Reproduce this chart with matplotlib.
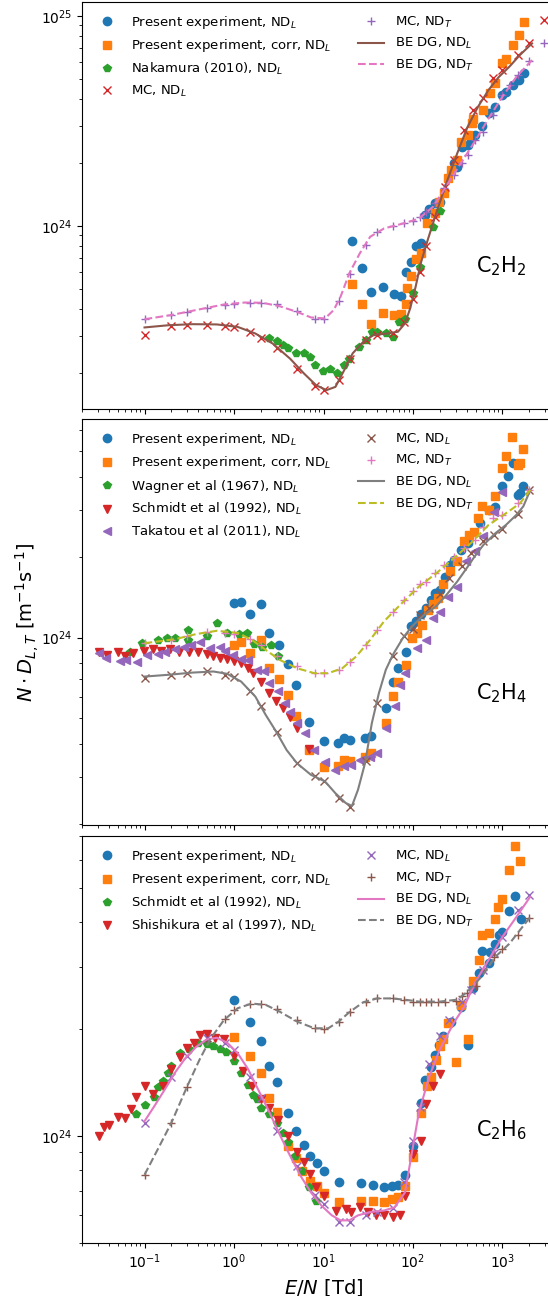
import numpy as np
import matplotlib
matplotlib.use("Agg")
import matplotlib.pyplot as plt
from matplotlib.ticker import NullFormatter

# ---------------- data (E/N in Td, N*D in units of 1e24 m^-1 s^-1) ----------------
# C2H2
c2h2_exp_E = [20.8, 26.8, 34.1, 46.7, 61.1, 74.4, 82.9, 94.8, 108, 124, 137, 152, 174, 203, 285, 312, 357, 408, 446, 488, 595, 699, 821, 1000, 1094, 1309, 1538, 1758]
c2h2_exp_ND = [0.845, 0.631, 0.483, 0.512, 0.475, 0.462, 0.600, 0.671, 0.800, 0.830, 1.12, 1.20, 1.28, 1.30, 1.98, 1.91, 2.38, 2.42, 2.60, 2.70, 2.98, 3.43, 3.69, 4.19, 4.35, 4.67, 4.94, 5.31]
c2h2_corr_E = [20.8, 26.8, 34.1, 46.7, 61.1, 74.4, 82.9, 85.1, 94.8, 108, 124, 142, 174, 196, 222, 249, 265, 312, 347, 408, 455, 471, 600, 731, 821, 1000, 1094, 1309, 1538, 1758]
c2h2_corr_ND = [0.531, 0.422, 0.340, 0.383, 0.374, 0.379, 0.422, 0.503, 0.576, 0.698, 0.738, 1.03, 1.15, 1.30, 1.43, 1.68, 1.84, 2.05, 2.51, 2.70, 3.07, 3.24, 3.55, 4.27, 4.76, 5.93, 6.19, 7.25, 8.09, 9.36]
c2h2_nak_E = [2.47, 3.04, 3.54, 4.05, 4.97, 6.05, 7.05, 8.07, 9.91, 11.9, 14.2, 17.0, 19.4, 24.9, 29.6, 34.7, 39.7, 49.7, 60.5, 69.9, 81.4, 99.1, 119, 167, 203]
c2h2_nak_ND = [0.291, 0.283, 0.270, 0.261, 0.247, 0.247, 0.238, 0.217, 0.204, 0.207, 0.200, 0.217, 0.231, 0.265, 0.285, 0.313, 0.311, 0.307, 0.296, 0.349, 0.358, 0.476, 0.638, 0.989, 1.17]
c2h2_mcL_E = [0.1, 0.2, 0.3, 0.5, 0.8, 1, 1.5, 2, 3, 5, 8, 10, 15, 20, 30, 40, 60, 80, 100, 120, 140, 175, 230, 285, 370, 470, 600, 780, 1000, 1500, 2000, 2900]
c2h2_mcL_ND = [0.302, 0.333, 0.336, 0.336, 0.333, 0.330, 0.313, 0.291, 0.261, 0.209, 0.172, 0.165, 0.184, 0.231, 0.285, 0.302, 0.307, 0.349, 0.446, 0.604, 0.800, 1.10, 1.53, 2.05, 2.86, 3.55, 4.04, 5.03, 5.51, 6.50, 7.44, 9.53]
c2h2_mcT_E = [0.1, 0.2, 0.3, 0.5, 0.8, 1, 1.5, 2, 3, 5, 8, 10, 15, 20, 30, 40, 60, 80, 100, 120, 140, 175, 220, 285, 350, 410, 490, 600, 780, 1000, 1200, 1500, 2000, 2900]
c2h2_mcT_ND = [0.359, 0.376, 0.389, 0.404, 0.419, 0.424, 0.431, 0.430, 0.424, 0.392, 0.359, 0.359, 0.438, 0.589, 0.809, 0.936, 0.996, 1.03, 1.05, 1.10, 1.16, 1.28, 1.51, 1.74, 1.98, 2.17, 2.56, 2.80, 3.37, 4.19, 4.67, 5.22, 6.08, 7.44]
c2h2_beL_E = [0.1, 0.184, 0.344, 0.644, 1.1, 1.73, 2.70, 4.23, 6.05, 8.29, 10.8, 13.6, 17.0, 21.2, 27.8, 36.3, 52.0, 68.0, 81.4, 93.0, 107, 122, 146, 182, 239, 312, 408, 534, 699, 915, 1196, 1567, 2141]
c2h2_beL_ND = [0.328, 0.336, 0.340, 0.339, 0.330, 0.307, 0.275, 0.233, 0.198, 0.174, 0.165, 0.171, 0.205, 0.247, 0.280, 0.302, 0.307, 0.313, 0.343, 0.404, 0.512, 0.662, 0.855, 1.15, 1.62, 2.21, 2.96, 3.69, 4.43, 5.12, 5.72, 6.50, 7.38]
c2h2_beT_E = [0.1, 0.2, 0.377, 0.771, 1.32, 2.07, 3.23, 5.06, 7.24, 10.4, 13.0, 15.5, 19.4, 25.4, 33.2, 47.5, 74.4, 116, 167, 239, 341, 488, 699, 1000, 1432, 2141]
c2h2_beT_ND = [0.359, 0.376, 0.397, 0.422, 0.431, 0.430, 0.414, 0.389, 0.366, 0.362, 0.397, 0.459, 0.593, 0.738, 0.886, 0.971, 1.02, 1.08, 1.23, 1.56, 1.98, 2.51, 3.24, 4.12, 5.12, 6.15]

# C2H4
c2h4_exp_E = [1.0, 1.2, 1.5, 1.98, 2.49, 3.18, 3.97, 4.97, 6.92, 10.1, 14.6, 17.0, 20.0, 29.1, 34.1, 49.7, 59.5, 68.0, 83.6, 95.7, 107, 122, 139, 159, 174, 199, 228, 261, 285, 341, 408, 559, 699, 836, 1000, 1143, 1309, 1497, 1567, 1711]
c2h4_exp_ND = [1.35, 1.36, 1.23, 1.34, 1.04, 0.936, 0.795, 0.663, 0.482, 0.408, 0.402, 0.420, 0.414, 0.420, 0.426, 0.544, 0.684, 0.767, 0.879, 1.10, 1.15, 1.22, 1.29, 1.38, 1.47, 1.51, 1.69, 1.87, 1.95, 2.13, 2.26, 2.68, 3.01, 3.07, 3.68, 4.01, 4.50, 3.42, 3.47, 3.70]
c2h4_corr_E = [1.0, 1.2, 1.5, 1.98, 2.49, 3.18, 3.97, 4.97, 6.92, 10.1, 14.6, 17.0, 20.0, 29.1, 34.1, 49.7, 60.5, 68.0, 83.6, 97.4, 111, 127, 146, 167, 191, 218, 261, 312, 373, 427, 476, 534, 584, 699, 836, 1000, 1094, 1285, 1497, 1567, 1711]
c2h4_corr_ND = [0.939, 0.958, 0.874, 0.980, 0.767, 0.702, 0.608, 0.509, 0.379, 0.327, 0.330, 0.348, 0.346, 0.358, 0.369, 0.478, 0.605, 0.684, 0.790, 0.994, 1.04, 1.11, 1.27, 1.33, 1.40, 1.58, 1.77, 1.93, 2.29, 2.42, 2.49, 2.80, 3.10, 3.01, 3.39, 4.31, 4.79, 5.66, 4.43, 4.50, 5.07]
c2h4_wag_E = [0.0687, 0.094, 0.141, 0.176, 0.22, 0.306, 0.306, 0.493, 0.644, 0.84, 1.13, 1.38, 1.68, 2.07, 2.58, 3.09]
c2h4_wag_ND = [0.879, 0.952, 0.980, 1.0, 0.994, 1.07, 0.980, 1.01, 1.13, 1.04, 1.03, 1.04, 0.944, 0.920, 0.939, 0.854]
c2h4_sch_E = [0.0306, 0.0384, 0.0501, 0.060, 0.075, 0.098, 0.123, 0.154, 0.192, 0.240, 0.315, 0.394, 0.493, 0.589, 0.705, 0.84, 1.0, 1.2, 1.44, 1.65, 1.98, 2.47, 2.96, 3.54, 4.23, 5.06, 6.92]
c2h4_sch_ND = [0.881, 0.861, 0.879, 0.849, 0.874, 0.894, 0.904, 0.894, 0.904, 0.886, 0.879, 0.879, 0.867, 0.849, 0.837, 0.830, 0.820, 0.806, 0.767, 0.739, 0.684, 0.622, 0.579, 0.544, 0.506, 0.457, 0.382]
c2h4_tak_E = [0.0306, 0.0367, 0.0525, 0.0628, 0.082, 0.107, 0.141, 0.168, 0.22, 0.275, 0.329, 0.412, 0.54, 0.705, 0.8, 0.965, 1.2, 1.44, 1.81, 2.16, 2.47, 3.09, 3.70, 4.23, 5.06, 6.17, 7.92, 10.4, 13.6, 17.0, 20.3, 25.4, 33.2, 39.7, 49.7, 62.2, 71.1, 81.4, 111, 139, 167, 199, 249, 312, 390, 488, 611, 806, 1000]
c2h4_tak_ND = [0.874, 0.837, 0.820, 0.825, 0.809, 0.857, 0.867, 0.886, 0.904, 0.920, 0.939, 0.961, 0.912, 0.920, 0.894, 0.861, 0.830, 0.825, 0.757, 0.746, 0.678, 0.633, 0.568, 0.528, 0.478, 0.440, 0.379, 0.343, 0.319, 0.329, 0.333, 0.348, 0.358, 0.369, 0.457, 0.555, 0.665, 0.735, 0.912, 0.980, 1.18, 1.25, 1.42, 1.55, 1.93, 2.10, 2.39, 2.96, 3.51]
c2h4_mcL_E = [0.1, 0.2, 0.3, 0.5, 0.8, 1, 1.5, 2, 3, 5, 8, 10, 15, 20, 30, 40, 60, 80, 100, 120, 150, 200, 250, 350, 450, 600, 800, 1000, 1500, 2000]
c2h4_mcL_ND = [0.705, 0.725, 0.735, 0.746, 0.725, 0.714, 0.628, 0.555, 0.444, 0.340, 0.302, 0.291, 0.250, 0.232, 0.346, 0.568, 0.854, 1.01, 1.08, 1.21, 1.29, 1.45, 1.67, 1.86, 2.07, 2.29, 2.42, 2.56, 2.90, 3.57]
c2h4_mcT_E = [0.1, 0.2, 0.3, 0.5, 0.8, 1, 1.5, 2, 3, 5, 8, 10, 15, 20, 30, 40, 60, 80, 100, 120, 140, 175, 220, 285, 370, 490, 610, 780, 1000, 1500, 2000]
c2h4_mcT_ND = [0.952, 0.980, 1.01, 1.05, 1.04, 1.03, 0.986, 0.939, 0.854, 0.779, 0.735, 0.735, 0.757, 0.813, 0.939, 1.07, 1.25, 1.38, 1.49, 1.58, 1.62, 1.74, 1.87, 2.01, 2.16, 2.32, 2.60, 2.80, 2.88, 3.18, 3.57]
c2h4_beL_E = [0.1, 0.184, 0.344, 0.589, 0.84, 1.2, 1.73, 2.26, 2.96, 3.87, 5.06, 7.24, 10.4, 13.6, 17.7, 20.8, 24.3, 29.1, 34.7, 41.6, 49.7, 59.5, 77.8, 97.4, 127, 182, 239, 312, 408, 488, 611, 836, 1094, 1432, 1711, 2049]
c2h4_beL_ND = [0.714, 0.725, 0.739, 0.746, 0.731, 0.684, 0.601, 0.513, 0.444, 0.379, 0.338, 0.306, 0.289, 0.261, 0.240, 0.234, 0.269, 0.338, 0.478, 0.619, 0.757, 0.861, 1.0, 1.10, 1.20, 1.31, 1.45, 1.62, 1.84, 2.01, 2.22, 2.46, 2.64, 2.88, 3.10, 3.57]
c2h4_beT_E = [0.1, 0.22, 0.377, 0.644, 1.1, 1.58, 2.26, 3.23, 5.06, 7.92, 11.3, 16.2, 23.2, 33.2, 47.5, 74.4, 116, 182, 285, 446, 699, 1094, 1567, 2049]
c2h4_beT_ND = [0.952, 0.986, 1.03, 1.06, 1.04, 0.980, 0.899, 0.825, 0.767, 0.735, 0.735, 0.767, 0.849, 0.980, 1.15, 1.34, 1.55, 1.74, 1.98, 2.26, 2.64, 2.92, 3.18, 3.57]

# C2H6
c2h6_exp_E = [1.0, 1.5, 1.98, 2.49, 3.01, 3.97, 4.97, 6.05, 6.99, 8.44, 10.1, 14.8, 26.1, 35.7, 47.5, 57.9, 68.0, 81.4, 99.1, 122, 137, 159, 174, 196, 218, 265, 341, 408, 467, 544, 584, 699, 731, 836, 915, 1000, 1175, 1393, 1594]
c2h6_exp_ND = [2.41, 2.10, 1.85, 1.57, 1.42, 1.16, 1.03, 0.944, 0.879, 0.836, 0.794, 0.740, 0.735, 0.729, 0.716, 0.724, 0.727, 0.777, 0.937, 1.24, 1.44, 1.56, 1.69, 1.80, 1.91, 2.10, 2.31, 1.80, 2.61, 2.88, 3.32, 3.08, 3.30, 3.48, 3.68, 3.75, 4.30, 4.74, 4.09]
c2h6_corr_E = [1.0, 1.5, 1.98, 2.49, 3.01, 3.97, 4.97, 5.79, 6.99, 8.44, 10.1, 14.8, 26.1, 35.7, 47.5, 57.9, 68.0, 81.4, 99.1, 122, 142, 159, 179, 199, 218, 249, 303, 341, 408, 467, 544, 584, 699, 821, 898, 1000, 1175, 1393, 1567]
c2h6_corr_ND = [1.90, 1.68, 1.50, 1.28, 1.17, 0.937, 0.864, 0.794, 0.748, 0.724, 0.689, 0.650, 0.657, 0.657, 0.650, 0.664, 0.672, 0.721, 0.873, 1.16, 1.38, 1.47, 1.64, 1.79, 1.87, 2.08, 1.61, 2.34, 1.87, 2.73, 3.14, 3.68, 3.72, 4.09, 4.43, 4.64, 5.62, 6.57, 5.97]
c2h6_sch_E = [0.0807, 0.1, 0.128, 0.143, 0.161, 0.181, 0.2, 0.252, 0.315, 0.394, 0.493, 0.589, 0.705, 0.82, 1.0, 1.2, 1.42, 1.61, 1.81, 2.0, 2.47, 3.01, 3.54, 4.05, 4.84, 5.79, 6.92, 8.14]
c2h6_sch_ND = [1.15, 1.22, 1.29, 1.37, 1.43, 1.50, 1.57, 1.71, 1.76, 1.83, 1.82, 1.79, 1.76, 1.72, 1.63, 1.50, 1.39, 1.30, 1.27, 1.20, 1.15, 1.09, 1.02, 0.958, 0.879, 0.798, 0.716, 0.657]
c2h6_shi_E = [0.0306, 0.0351, 0.0401, 0.0501, 0.060, 0.070, 0.0807, 0.1, 0.123, 0.161, 0.2, 0.252, 0.3, 0.354, 0.412, 0.493, 0.617, 0.771, 1.0, 1.26, 1.58, 1.98, 2.47, 3.09, 3.97, 5.06, 6.05, 7.11, 8.29, 10.2, 13.9, 17.7, 20.3, 25.4, 31.8, 39.0, 47.5, 59.5, 71.1, 81.4, 99.1, 122, 139, 167, 199]
c2h6_shi_ND = [0.996, 1.06, 1.07, 1.13, 1.12, 1.19, 1.29, 1.38, 1.31, 1.38, 1.54, 1.67, 1.77, 1.83, 1.93, 1.94, 1.89, 1.87, 1.68, 1.52, 1.38, 1.27, 1.20, 1.11, 1.0, 0.898, 0.842, 0.781, 0.716, 0.675, 0.616, 0.621, 0.610, 0.629, 0.610, 0.600, 0.597, 0.591, 0.597, 0.679, 0.888, 0.968, 1.23, 1.38, 1.49]
c2h6_mcL_E = [0.1, 0.2, 0.3, 0.5, 0.8, 1, 1.5, 2, 3, 5, 8, 10, 15, 20, 30, 40, 60, 80, 100, 120, 150, 200, 250, 350, 450, 600, 800, 1000, 1500, 2000]
c2h6_mcL_ND = [1.09, 1.47, 1.68, 1.89, 1.83, 1.75, 1.47, 1.28, 1.03, 0.824, 0.682, 0.643, 0.572, 0.572, 0.597, 0.610, 0.625, 0.740, 0.968, 1.21, 1.59, 1.91, 2.12, 2.38, 2.58, 2.93, 3.27, 3.64, 4.32, 4.76]
c2h6_mcT_E = [0.1, 0.2, 0.3, 0.5, 0.8, 1, 1.5, 2, 3, 5, 8, 10, 15, 20, 30, 40, 60, 80, 100, 120, 140, 160, 190, 230, 300, 350, 400, 500, 600, 800, 1000, 1500, 2000]
c2h6_mcT_ND = [0.777, 1.09, 1.37, 1.85, 2.13, 2.26, 2.36, 2.36, 2.28, 2.12, 2.01, 2.00, 2.10, 2.24, 2.39, 2.44, 2.44, 2.42, 2.39, 2.39, 2.39, 2.39, 2.39, 2.39, 2.40, 2.48, 2.52, 2.64, 2.93, 3.20, 3.36, 3.68, 4.12]
c2h6_beL_E = [0.1, 0.128, 0.168, 0.22, 0.288, 0.377, 0.493, 0.644, 0.84, 1.1, 1.44, 1.89, 2.47, 3.23, 4.23, 5.53, 7.24, 9.48, 12.4, 15.5, 19.4, 24.3, 33.2, 47.5, 62.2, 81.4, 97.4, 116, 152, 199, 285, 373, 488, 699, 1000, 1432, 2030]
c2h6_beL_ND = [1.10, 1.21, 1.35, 1.51, 1.66, 1.78, 1.87, 1.89, 1.83, 1.71, 1.54, 1.34, 1.17, 1.01, 0.879, 0.772, 0.693, 0.636, 0.597, 0.578, 0.578, 0.597, 0.610, 0.616, 0.629, 0.693, 0.898, 1.16, 1.47, 1.75, 2.08, 2.31, 2.69, 3.13, 3.64, 4.14, 4.71]
c2h6_beT_E = [0.1, 0.141, 0.2, 0.3, 0.412, 0.54, 0.771, 1.1, 1.58, 2.26, 3.23, 5.06, 7.92, 11.3, 14.8, 19.4, 27.8, 39.7, 56.9, 81.4, 116, 199, 312, 408, 584, 836, 1196, 1567, 2049]
c2h6_beT_ND = [0.777, 0.918, 1.09, 1.38, 1.64, 1.87, 2.12, 2.29, 2.36, 2.34, 2.24, 2.10, 2.01, 2.01, 2.10, 2.23, 2.38, 2.44, 2.44, 2.42, 2.39, 2.39, 2.42, 2.55, 2.81, 3.20, 3.48, 3.80, 4.14]

UNIT = 1e24

# ---------------- figure ----------------
fig = plt.figure(figsize=(5.48, 12.96), dpi=100)
W, H = 548.0, 1296.0
left = 82 / W
width = 483 / W
ax1 = fig.add_axes([left, (H - 408.7) / H, width, 407.0 / H])
ax2 = fig.add_axes([left, (H - 825.3) / H, width, 406.6 / H], sharex=ax1)
ax3 = fig.add_axes([left, (H - 1242.7) / H, width, 406.7 / H], sharex=ax1)


def pts(ax, E, ND, marker, label, **kw):
    ax.plot(E, np.asarray(ND) * UNIT, marker, ls='none', label=label, **kw)


def line(ax, E, ND, ls, label, **kw):
    ax.plot(E, np.asarray(ND) * UNIT, ls, label=label, **kw)


L = r'ND$_L$'
T = r'ND$_T$'

# panel 1: C2H2
pts(ax1, c2h2_exp_E, c2h2_exp_ND, 'o', 'Present experiment, ' + L)
pts(ax1, c2h2_corr_E, c2h2_corr_ND, 's', 'Present experiment, corr, ' + L)
pts(ax1, c2h2_nak_E, c2h2_nak_ND, 'p', 'Nakamura (2010), ' + L)
pts(ax1, c2h2_mcL_E, c2h2_mcL_ND, 'x', 'MC, ' + L)
pts(ax1, c2h2_mcT_E, c2h2_mcT_ND, '+', 'MC, ' + T)
line(ax1, c2h2_beL_E, c2h2_beL_ND, '-', 'BE DG, ' + L)
line(ax1, c2h2_beT_E, c2h2_beT_ND, '--', 'BE DG, ' + T)

# panel 2: C2H4
pts(ax2, c2h4_exp_E, c2h4_exp_ND, 'o', 'Present experiment, ' + L)
pts(ax2, c2h4_corr_E, c2h4_corr_ND, 's', 'Present experiment, corr, ' + L)
pts(ax2, c2h4_wag_E, c2h4_wag_ND, 'p', 'Wagner et al (1967), ' + L)
pts(ax2, c2h4_sch_E, c2h4_sch_ND, 'v', 'Schmidt et al (1992), ' + L)
pts(ax2, c2h4_tak_E, c2h4_tak_ND, '<', 'Takatou et al (2011), ' + L)
pts(ax2, c2h4_mcL_E, c2h4_mcL_ND, 'x', 'MC, ' + L)
pts(ax2, c2h4_mcT_E, c2h4_mcT_ND, '+', 'MC, ' + T)
line(ax2, c2h4_beL_E, c2h4_beL_ND, '-', 'BE DG, ' + L)
line(ax2, c2h4_beT_E, c2h4_beT_ND, '--', 'BE DG, ' + T)

# panel 3: C2H6
pts(ax3, c2h6_exp_E, c2h6_exp_ND, 'o', 'Present experiment, ' + L)
pts(ax3, c2h6_corr_E, c2h6_corr_ND, 's', 'Present experiment, corr, ' + L)
pts(ax3, c2h6_sch_E, c2h6_sch_ND, 'p', 'Schmidt et al (1992), ' + L)
pts(ax3, c2h6_shi_E, c2h6_shi_ND, 'v', 'Shishikura et al (1997), ' + L)
pts(ax3, c2h6_mcL_E, c2h6_mcL_ND, 'x', 'MC, ' + L)
pts(ax3, c2h6_mcT_E, c2h6_mcT_ND, '+', 'MC, ' + T)
line(ax3, c2h6_beL_E, c2h6_beL_ND, '-', 'BE DG, ' + L)
line(ax3, c2h6_beT_E, c2h6_beT_ND, '--', 'BE DG, ' + T)

for ax in (ax1, ax2, ax3):
    ax.set_xscale('log')
    ax.set_yscale('log')
    ax.yaxis.set_minor_formatter(NullFormatter())
    ax.legend(loc='upper left', ncol=2, frameon=False, fontsize=9.5)

ax1.set_xlim(0.02, 5000)
ax1.set_ylim(1.346e23, 1.166e25)
ax2.set_ylim(1.98e23, 6.6e24)
ax3.set_ylim(5.0e23, 7.0e24)

ax1.tick_params(labelbottom=False)
ax2.tick_params(labelbottom=False)

ax1.text(970, 6.4e23, r'C$_2$H$_2$', fontsize=15, ha='center', va='center')
ax2.text(970, 6.2e23, r'C$_2$H$_4$', fontsize=15, ha='center', va='center')
ax3.text(970, 1.04e24, r'C$_2$H$_6$', fontsize=15, ha='center', va='center')

ax2.set_ylabel(r'$N \cdot D_{L,T}$ [m$^{-1}$s$^{-1}$]', fontsize=14, labelpad=0)
ax3.set_xlabel(r'$E/N$ [Td]', fontsize=14)

fig.savefig('out.png', dpi=100)
